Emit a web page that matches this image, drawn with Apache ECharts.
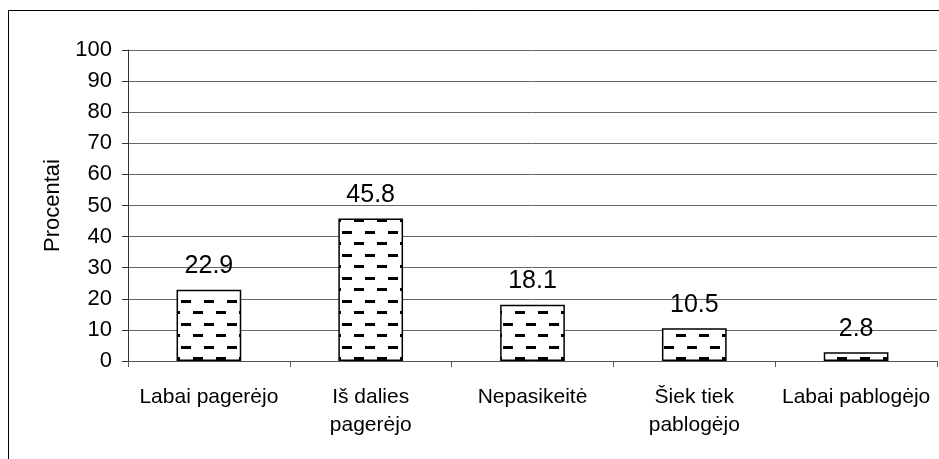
<!DOCTYPE html>
<html>
<head>
<meta charset="utf-8">
<script src="https://cdn.jsdelivr.net/npm/echarts@6/dist/echarts.min.js"></script>
<style>
html,body{margin:0;padding:0;background:#fff;}
#chart{width:939px;height:459px;}
</style>
</head>
<body>
<div id="chart"></div>
<script>
const categories = ['Labai pagerėjo', 'Iš dalies\npagerėjo', 'Nepasikeitė', 'Šiek tiek\npablogėjo', 'Labai pablogėjo'];
const values = [22.9, 45.8, 18.1, 10.5, 2.8];
const yTicks = [0, 10, 20, 30, 40, 50, 60, 70, 80, 90, 100];
const yAxisName = 'Procentai';

function makePattern() {
  const c = document.createElement('canvas');
  c.width = 23; c.height = 23;
  const g = c.getContext('2d');
  g.fillStyle = '#fff';
  g.fillRect(0, 0, 23, 23);
  g.fillStyle = '#000';
  g.fillRect(20, 1, 3, 3);
  g.fillRect(0, 1, 7, 3);
  g.fillRect(9, 12, 10, 3);
  return c;
}

const font = '"Liberation Sans", Arial, sans-serif';
const chart = echarts.init(document.getElementById('chart'), null, {renderer: 'canvas'});
chart.setOption({
  animation: false,
  backgroundColor: '#fff',
  grid: {left: 128, right: 2, top: 50, bottom: 98},
  graphic: [{
    type: 'rect', silent: true, z: -1,
    shape: {x: 8.5, y: 10.5, width: 1200, height: 1200},
    style: {fill: 'none', stroke: '#000', lineWidth: 1}
  }],
  xAxis: {
    type: 'category',
    data: categories,
    boundaryGap: true,
    axisLine: {lineStyle: {color: '#555', width: 1}},
    axisTick: {show: true, length: 6, lineStyle: {color: '#555'}},
    axisLabel: {color: '#000', fontFamily: font, fontSize: 21, lineHeight: 28, margin: 22, interval: 0}
  },
  yAxis: {
    type: 'value',
    min: yTicks[0], max: yTicks[yTicks.length - 1], interval: 10,
    name: yAxisName,
    nameLocation: 'middle',
    nameGap: 64,
    nameRotate: 90,
    nameTextStyle: {color: '#000', fontFamily: font, fontSize: 22},
    axisLine: {show: true, lineStyle: {color: '#333', width: 1}},
    axisTick: {show: true, length: 6, lineStyle: {color: '#333'}},
    axisLabel: {color: '#000', fontFamily: font, fontSize: 22, margin: 16},
    splitLine: {show: true, lineStyle: {color: '#666', width: 1}}
  },
  series: [{
    type: 'bar',
    data: values,
    barWidth: '40%',
    itemStyle: {
      color: {image: makePattern(), repeat: 'repeat'},
      borderColor: '#000',
      borderWidth: 1.5
    },
    label: {
      show: true, position: 'top', distance: 11,
      color: '#000', fontFamily: font, fontSize: 25
    }
  }]
});
</script>
</body>
</html>
